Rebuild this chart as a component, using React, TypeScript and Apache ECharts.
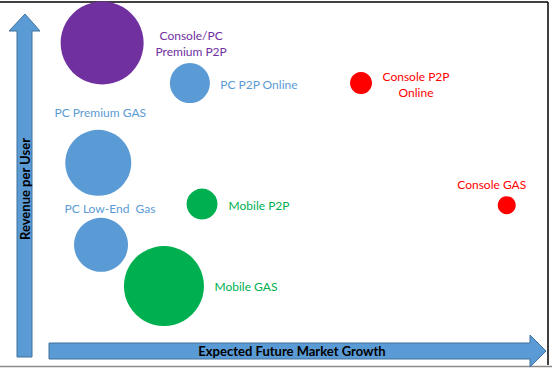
import React, { useEffect, useRef } from "react";
import * as echarts from "echarts";

// Segment data (growth index 0-100, revenue index 0-100, bubble size)
const segments = [
  "Console/PC\nPremium P2P",
  "PC P2P Online",
  "Console P2P\nOnline",
  "PC Premium GAS",
  "Mobile P2P",
  "Console GAS",
  "PC Low-End  Gas",
  "Mobile GAS",
];
const growth = [18.5, 34.4, 65.4, 17.8, 36.6, 91.8, 18.3, 29.7];
const revenue = [88.4, 77.6, 77.6, 56.1, 45.0, 44.7, 34.0, 22.9];
const marketSize = [83, 40, 22, 66, 31, 18, 54, 80];
const colors = ["#7030A0", "#5B9BD5", "#FF0000", "#5B9BD5", "#00B050", "#FF0000", "#5B9BD5", "#00B050"];
const labelOffsets: [number, number][] = [
  [89, 0],
  [69, 1],
  [55, 1],
  [2, -50],
  [57, 1],
  [-15, -21],
  [9, -36],
  [82, 0],
];

const xTitle = "Expected Future Market Growth";
const yTitle = "Revenue per User";

export default function App() {
  const ref = useRef<HTMLDivElement>(null);
  useEffect(() => {
    document.body.style.margin = "0";
    const chart = echarts.init(ref.current!, null, { renderer: "svg" });
    const data = segments.map((name, i) => ({
      name,
      value: [growth[i], revenue[i], marketSize[i]],
      itemStyle: { color: colors[i], opacity: 1 },
      label: {
        show: true,
        position: "inside",
        offset: labelOffsets[i],
        formatter: name,
        color: colors[i],
        fontFamily: "Lato",
        fontSize: 12,
        lineHeight: 16,
        align: "center",
        verticalAlign: "middle",
      },
    }));
    const arrowStyle = { fill: "#5B9BD5", stroke: "#41719C", lineWidth: 1 };
    chart.setOption({
      animation: false,
      grid: { left: 0, top: 0, width: 552, height: 371 },
      xAxis: { type: "value", min: 0, max: 100, show: false },
      yAxis: { type: "value", min: 0, max: 100, show: false },
      series: [
        {
          type: "scatter",
          data,
          symbol: "circle",
          symbolSize: (v: number[]) => v[2],
          emphasis: { disabled: true },
        },
      ],
      graphic: [
        { type: "line", shape: { x1: 0, y1: 2, x2: 548, y2: 2 }, style: { stroke: "#000", lineWidth: 1.5 } },
        { type: "line", shape: { x1: 548, y1: 2, x2: 548, y2: 365 }, style: { stroke: "#000", lineWidth: 1.5 } },
        { type: "line", shape: { x1: 0, y1: 366.5, x2: 552, y2: 366.5 }, style: { stroke: "#8a8a8a", lineWidth: 1.5 } },
        {
          type: "polygon",
          shape: {
            points: [
              [25, 14], [40, 31], [32, 31], [32, 357], [17, 357], [17, 31], [9, 31],
            ],
          },
          style: arrowStyle,
        },
        {
          type: "polygon",
          shape: {
            points: [
              [49, 343], [530, 343], [530, 335], [546, 351], [530, 367], [530, 359], [49, 359],
            ],
          },
          style: arrowStyle,
        },
        {
          type: "text",
          x: 25,
          y: 189,
          rotation: Math.PI / 2,
          style: {
            text: yTitle,
            fill: "#000",
            font: "bold 13px Lato",
            align: "center",
            verticalAlign: "middle",
          },
        },
        {
          type: "text",
          x: 292,
          y: 351,
          style: {
            text: xTitle,
            fill: "#000",
            font: "bold 13px Lato",
            align: "center",
            verticalAlign: "middle",
          },
        },
      ],
    });
    return () => chart.dispose();
  }, []);
  return <div ref={ref} style={{ width: 552, height: 371 }} />;
}
